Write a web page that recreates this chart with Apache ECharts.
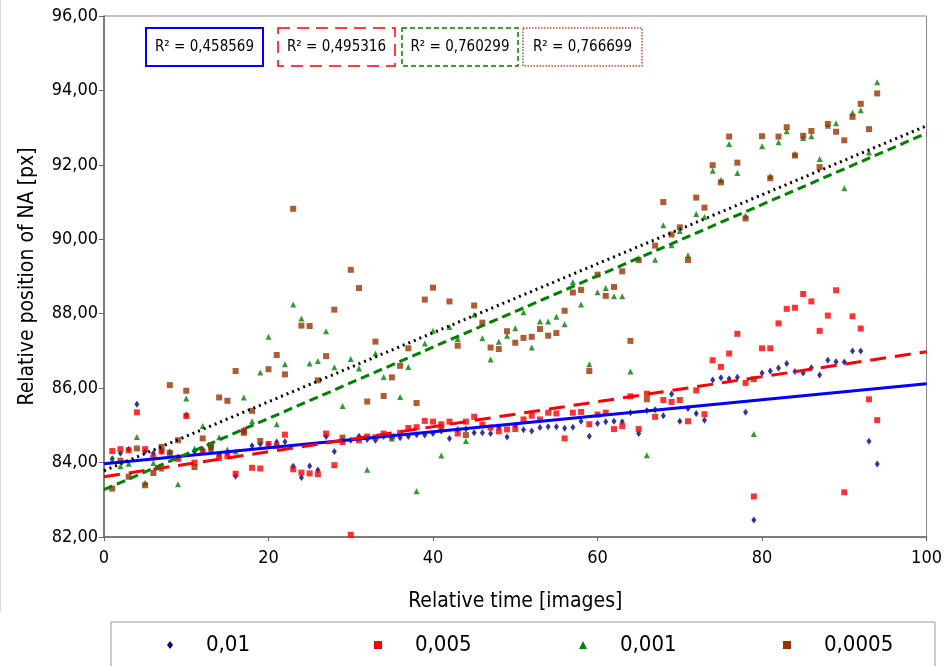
<!DOCTYPE html>
<html><head><meta charset="utf-8">
<script src="https://cdn.jsdelivr.net/npm/echarts@6/dist/echarts.min.js"></script>
<style>html,body{margin:0;padding:0;background:#fff}#c{width:945px;height:666px}</style>
</head><body><div id="c"></div>
<script>
const seriesNames = ['0,01', '0,005', '0,001', '0,0005'];
const xValues = [1,2,3,4,5,6,7,8,9,10,11,12,13,14,15,16,17,18,19,20,21,22,23,24,25,26,27,28,29,30,31,32,33,34,35,36,37,38,39,40,41,42,43,44,45,46,47,48,49,50,51,52,53,54,55,56,57,58,59,60,61,62,63,64,65,66,67,68,69,70,71,72,73,74,75,76,77,78,79,80,81,82,83,84,85,86,87,88,89,90,91,92,93,94];
const blue = [84.10,84.25,84.36,85.57,84.30,84.25,84.30,84.28,84.15,85.28,84.30,84.35,84.40,84.22,84.25,83.63,84.87,84.45,84.50,84.49,
  84.55,84.56,83.90,83.60,83.91,83.80,84.70,84.30,84.60,84.60,84.71,84.62,84.60,84.70,84.68,84.67,84.70,84.75,84.74,84.78,
  84.85,84.65,84.88,84.90,84.80,84.80,84.78,84.95,84.69,85.00,84.88,84.85,84.94,84.96,84.96,84.92,84.95,85.11,84.71,85.05,
  85.10,85.11,85.10,85.34,84.78,85.40,85.42,85.26,85.84,85.11,85.45,85.32,85.14,86.22,86.28,86.25,86.29,85.35,82.46,86.41,
  86.46,86.54,86.66,86.45,86.41,86.55,86.35,86.75,86.71,86.70,87.00,87.00,84.57,83.96];
const red = [84.31,84.36,84.33,85.35,84.36,84.14,84.30,84.26,84.10,85.25,84.00,84.29,84.40,84.13,84.17,83.70,84.84,83.86,83.84,84.50,
  84.45,84.75,83.82,83.73,83.71,83.69,84.78,83.93,84.55,82.06,84.60,84.70,84.68,84.78,84.70,84.80,84.93,84.95,85.12,85.10,
  85.03,85.10,84.78,85.10,85.23,85.02,84.94,84.84,84.89,84.90,85.16,85.26,85.16,85.34,85.32,84.65,85.34,85.36,85.03,85.29,
  85.34,84.90,84.98,85.78,84.90,85.85,85.23,85.68,85.63,85.68,85.11,85.94,85.30,86.75,86.57,86.93,87.46,86.14,83.09,87.07,
  87.07,87.74,88.13,88.16,88.53,88.33,87.54,87.95,88.63,83.20,87.93,87.60,85.70,85.14];
const green = [84.06,83.90,83.97,84.69,83.46,83.99,83.84,84.30,83.42,85.72,84.38,84.98,84.35,84.68,84.35,84.30,85.75,85.11,86.42,87.38,
  85.03,86.64,88.25,87.87,86.66,86.73,87.53,86.56,85.52,86.78,86.53,83.81,86.93,86.30,84.65,85.76,86.57,83.23,87.20,87.54,
  84.19,87.64,87.32,84.58,87.97,87.34,86.77,87.25,87.41,87.61,88.04,87.09,87.79,87.79,87.92,87.72,88.85,88.25,86.64,88.58,
  88.69,88.47,88.47,86.45,89.50,84.20,89.45,90.38,89.84,90.22,89.57,90.68,90.60,91.84,91.59,92.56,91.78,90.63,84.77,92.50,
  91.70,92.61,92.90,92.30,92.72,92.77,92.16,93.05,93.12,91.37,93.40,93.47,92.33,94.22];
const brown = [83.30,84.05,83.62,84.38,83.39,83.72,84.42,86.08,84.60,85.93,83.88,84.65,84.47,85.75,85.66,86.46,84.80,85.39,84.58,86.51,
  86.89,86.37,90.82,87.68,87.67,86.21,86.86,88.11,84.67,89.18,88.69,85.64,87.25,85.79,86.29,86.60,87.07,85.60,88.38,88.70,
  84.94,88.33,87.14,84.74,88.22,87.76,87.09,87.05,87.53,87.22,87.35,87.38,87.59,87.41,87.48,88.08,88.57,88.64,86.46,89.05,
  88.48,88.72,89.14,87.27,89.44,85.70,89.83,91.00,90.13,90.32,89.44,91.12,90.85,91.99,91.53,92.76,92.06,90.56,86.24,92.77,
  91.64,92.76,93.01,92.25,92.78,92.91,91.94,93.10,92.89,92.66,93.29,93.64,92.96,93.92];
const trendX = [0, 100];
const trendStart = [83.97, 83.62, 83.27, 83.78];
const trendEnd = [86.12, 86.98, 92.85, 93.05];
const r2Labels = ['R² = 0,458569', 'R² = 0,495316', 'R² = 0,760299', 'R² = 0,766699'];
const yTicks = {min: 82, max: 96, interval: 2};
const xTicks = {min: 0, max: 100, interval: 20};

const FONT = "'DejaVu Sans Condensed', 'DejaVu Sans', sans-serif";
const colors = ['#000080', '#ff0000', '#008000', '#993300'];
const lineColors = ['#0000ff', '#ff0000', '#008000', '#000000'];
const lineTypes = ['solid', [16, 9], [9, 5], [2, 4]];
const symbols = ['diamond', 'rect', 'triangle', 'rect'];
const symSizes = [[5, 7], 6, 6, 6];
const allVals = [blue, red, green, brown];

const chart = echarts.init(document.getElementById('c'), null, {renderer: 'canvas'});
const series = [];
for (let s = 0; s < 4; s++) {
  series.push({
    name: seriesNames[s], type: 'line', silent: true, symbol: 'none',
    data: trendX.map((x, i) => [x, i === 0 ? trendStart[s] : trendEnd[s]]),
    lineStyle: {color: lineColors[s], width: 3, type: lineTypes[s]}, z: 3
  });
}
for (let s = 0; s < 4; s++) {
  series.push({
    name: seriesNames[s], type: 'scatter', symbol: symbols[s], symbolSize: symSizes[s],
    data: xValues.map((x, i) => [x, allVals[s][i]]),
    itemStyle: {color: colors[s]}, z: 2
  });
}
const legendX = [162, 369, 574, 778];
const legends = seriesNames.map((n, i) => ({
  data: [{name: n, icon: symbols[i]}],
  left: legendX[i], top: 629, itemWidth: i === 0 ? 6 : 8, itemHeight: 8,
  textStyle: {fontFamily: FONT, fontSize: 22, color: '#000', padding: [0, 0, 0, 28]},
  itemStyle: {color: colors[i]}, selectedMode: false
}));
const boxX = [146, 278, 402, 523];
const boxW = [117, 117, 116, 119];
const boxDash = [null, [12, 7], [5, 3], [1.5, 1.5]];
const boxCol = ['#0000ff', '#ff0000', '#008000', '#b05030'];
const graphics = [
  {type: 'rect', shape: {x: 111, y: 622, width: 824, height: 60}, style: {fill: '#fff', stroke: '#999', lineWidth: 1}, z: 0},
  {type: 'line', shape: {x1: 0.5, y1: 0, x2: 0.5, y2: 612}, style: {stroke: '#ddd', lineWidth: 1}}
];
for (let i = 0; i < 4; i++) {
  graphics.push({type: 'rect', shape: {x: boxX[i], y: 28, width: boxW[i], height: 38},
    style: {fill: '#fff', stroke: boxCol[i], lineWidth: i === 0 ? 2 : 1.5, lineDash: boxDash[i]}, z: 10});
  graphics.push({type: 'text', x: boxX[i] + boxW[i] / 2, y: 47, z: 11,
    style: {text: r2Labels[i], fontFamily: FONT, fontSize: 15, fill: '#000', align: 'center', verticalAlign: 'middle'}});
}
chart.setOption({
  backgroundColor: '#fff',
  animation: false,
  grid: {left: 104, right: 15, top: 16, bottom: 129, show: true, borderColor: '#888', borderWidth: 1},
  legend: legends,
  xAxis: {
    type: 'value', min: xTicks.min, max: xTicks.max, interval: xTicks.interval,
    name: 'Relative time [images]', nameLocation: 'middle', nameGap: 54,
    nameTextStyle: {fontFamily: FONT, fontSize: 21, color: '#000'},
    axisLine: {lineStyle: {color: '#666', width: 1.5}},
    axisTick: {show: true, length: 4, lineStyle: {color: '#666'}},
    axisLabel: {fontFamily: FONT, fontSize: 18, color: '#000', margin: 12},
    splitLine: {show: false}
  },
  yAxis: {
    type: 'value', min: yTicks.min, max: yTicks.max, interval: yTicks.interval,
    name: 'Relative position of NA [px]', nameLocation: 'middle', nameGap: 66,
    nameTextStyle: {fontFamily: FONT, fontSize: 21, color: '#000'},
    axisLine: {show: true, lineStyle: {color: '#666', width: 1.5}},
    axisTick: {show: true, length: 5, lineStyle: {color: '#666'}},
    axisLabel: {fontFamily: FONT, fontSize: 18, color: '#000', margin: 6,
      formatter: v => v.toFixed(2).replace('.', ',')},
    splitLine: {show: false}
  },
  graphic: graphics,
  series: series
});
</script></body></html>
